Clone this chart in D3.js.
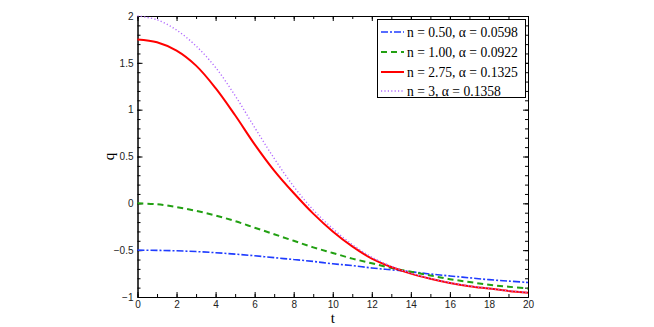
<!DOCTYPE html>
<html lang="en">
<head>
<meta charset="UTF-8">
<title>q vs t</title>
<style>
  body { margin: 0; background: #fff; }
  svg { display: block; }
  .tick text { font-family: "Liberation Sans", Arial, sans-serif; font-size: 10px; fill: #222; }
  .axis path, .axis line { stroke: #000; }
</style>
</head>
<body>
<script src="https://cdnjs.cloudflare.com/ajax/libs/d3/7.8.5/d3.min.js"></script>
<script>
  const width = 654;
  const height = 327;

  // t sample points
  const tValues = [0, 1, 2, 3, 4, 5, 6, 7, 8, 9, 10, 11, 12, 13, 14, 15, 16, 17, 18, 19, 20];

  // q values
  const qN050 = [-0.5, -0.502, -0.507, -0.515, -0.527, -0.542, -0.56, -0.58, -0.6, -0.62, -0.645,
    -0.665, -0.69, -0.71, -0.73, -0.755, -0.775, -0.795, -0.815, -0.83, -0.845];
  const qN100 = [0, -0.01, -0.04, -0.08, -0.13, -0.19, -0.26, -0.33, -0.4, -0.47, -0.53,
    -0.59, -0.64, -0.69, -0.73, -0.77, -0.81, -0.84, -0.87, -0.89, -0.91];
  const qN275 = [1.75, 1.72, 1.63, 1.47, 1.23, 0.94, 0.63, 0.35, 0.11, -0.11, -0.3,
    -0.46, -0.59, -0.68, -0.75, -0.805, -0.85, -0.885, -0.91, -0.935, -0.955];
  const qN300 = [2.0, 1.96, 1.85, 1.68, 1.45, 1.15, 0.81, 0.48, 0.18, -0.07, -0.27,
    -0.44, -0.575, -0.672, -0.746, -0.802, -0.847, -0.882, -0.908, -0.933, -0.953];

  const legendLabels = [
    'n = 0.50, \u03b1 = 0.0598',
    'n = 1.00, \u03b1 = 0.0922',
    'n = 2.75, \u03b1 = 0.1325',
    'n = 3, \u03b1 = 0.1358'
  ];

  const xTicks = [0, 2, 4, 6, 8, 10, 12, 14, 16, 18, 20];
  const yTicks = [-1, -0.5, 0, 0.5, 1, 1.5, 2];

  const series = [
    { label: legendLabels[0], values: qN050, color: '#1f3cff', dash: '7,2,2,2', width: 1.6 },
    { label: legendLabels[1], values: qN100, color: '#22a012', dash: '6,4', width: 2 },
    { label: legendLabels[2], values: qN275, color: '#ff0000', dash: null, width: 2 },
    { label: legendLabels[3], values: qN300, color: '#b26bff', dash: '1.2,2.2', width: 1.4 }
  ];

  const plot = { left: 137.5, right: 528, top: 16, bottom: 297 };

  const x = d3.scaleLinear().domain([0, 20]).range([plot.left, plot.right]);
  const y = d3.scaleLinear().domain([-1, 2]).range([plot.bottom, plot.top]);

  const svg = d3.select('body').append('svg')
    .attr('width', width)
    .attr('height', height);

  // minor ticks
  const xMinor = d3.range(0, 21, 1);
  const yMinor = d3.range(-10, 21, 1).map(d => d / 10);

  svg.append('g').attr('class', 'axis')
    .attr('transform', `translate(0,${plot.bottom})`)
    .call(d3.axisBottom(x).tickValues(xMinor).tickSizeInner(-3).tickSizeOuter(0).tickFormat(''));
  svg.append('g').attr('class', 'axis')
    .attr('transform', `translate(0,${plot.top})`)
    .call(d3.axisTop(x).tickValues(xMinor).tickSizeInner(-3).tickSizeOuter(0).tickFormat(''));
  svg.append('g').attr('class', 'axis')
    .attr('transform', `translate(${plot.left},0)`)
    .call(d3.axisLeft(y).tickValues(yMinor).tickSizeInner(-3).tickSizeOuter(0).tickFormat(''));
  svg.append('g').attr('class', 'axis')
    .attr('transform', `translate(${plot.right},0)`)
    .call(d3.axisRight(y).tickValues(yMinor).tickSizeInner(-3).tickSizeOuter(0).tickFormat(''));

  // major ticks
  svg.append('g').attr('class', 'axis')
    .attr('transform', `translate(0,${plot.bottom})`)
    .call(d3.axisBottom(x).tickValues(xTicks).tickSizeInner(-5).tickSizeOuter(0).tickPadding(4).tickFormat(d3.format('d')));
  svg.append('g').attr('class', 'axis')
    .attr('transform', `translate(0,${plot.top})`)
    .call(d3.axisTop(x).tickValues(xTicks).tickSizeInner(-5).tickSizeOuter(0).tickFormat(''));
  svg.append('g').attr('class', 'axis')
    .attr('transform', `translate(${plot.left},0)`)
    .call(d3.axisLeft(y).tickValues(yTicks).tickSizeInner(-5).tickSizeOuter(0).tickPadding(4)
      .tickFormat(d => d < 0 ? '\u2212' + Math.abs(d) : String(d)));
  svg.append('g').attr('class', 'axis')
    .attr('transform', `translate(${plot.right},0)`)
    .call(d3.axisRight(y).tickValues(yTicks).tickSizeInner(-5).tickSizeOuter(0).tickFormat(''));

  // axis labels
  svg.append('text')
    .attr('x', (plot.left + plot.right) / 2)
    .attr('y', 323)
    .attr('text-anchor', 'middle')
    .style('font-family', '"Liberation Serif", "Times New Roman", serif')
    .style('font-size', '15px')
    .text('t');

  svg.append('text')
    .attr('transform', `translate(114,${(plot.top + plot.bottom) / 2}) rotate(-90)`)
    .attr('text-anchor', 'middle')
    .style('font-family', '"Liberation Serif", "Times New Roman", serif')
    .style('font-size', '15px')
    .text('q');

  // curves
  const line = d3.line()
    .x((d, i) => x(tValues[i]))
    .y(d => y(d))
    .curve(d3.curveCatmullRom.alpha(0.5));

  const curves = svg.append('g').attr('class', 'curves');
  series.forEach(s => {
    curves.append('path')
      .datum(s.values)
      .attr('d', line)
      .attr('fill', 'none')
      .attr('stroke', s.color)
      .attr('stroke-width', s.width)
      .attr('stroke-dasharray', s.dash);
  });

  // legend
  const legend = svg.append('g').attr('class', 'legend');
  legend.append('rect')
    .attr('x', 377.5).attr('y', 19.5)
    .attr('width', 148).attr('height', 78)
    .attr('fill', '#fff')
    .attr('stroke', '#000')
    .attr('stroke-width', 1);

  const rowY = [37, 57, 77, 96];
  series.forEach((s, i) => {
    legend.append('line')
      .attr('x1', 381).attr('x2', 404)
      .attr('y1', rowY[i] - 5).attr('y2', rowY[i] - 5)
      .attr('stroke', s.color)
      .attr('stroke-width', s.width)
      .attr('stroke-dasharray', s.dash);
    legend.append('text')
      .attr('x', 407)
      .attr('y', rowY[i])
      .style('font-family', '"Liberation Serif", "Times New Roman", serif')
      .style('font-size', '13.6px')
      .text(s.label);
  });
</script>
</body>
</html>
